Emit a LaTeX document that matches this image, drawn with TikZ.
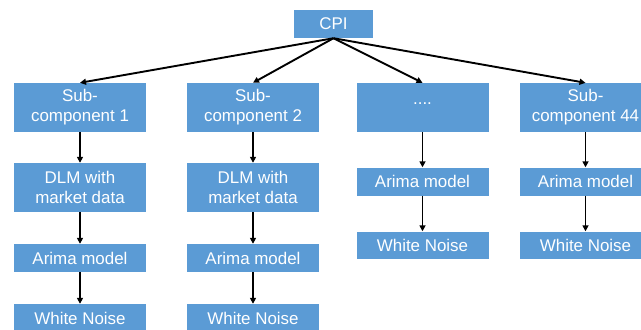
\documentclass[tikz,border=0pt]{standalone}
\usepackage{fontspec}
\setmainfont{Liberation Sans}
\usetikzlibrary{arrows.meta}
\definecolor{boxblue}{HTML}{5B9BD5}
\tikzset{
  box/.style={fill=boxblue, text=white, inner sep=0pt, minimum width=132bp, align=center,
    font=\fontsize{17}{20}\selectfont},
  tall/.style={box, minimum height=49bp},
  short/.style={box, minimum height=28bp},
  conn/.style={line width=1.9bp, -{Triangle[length=6bp,width=6bp]}}
}
\begin{document}
\begin{tikzpicture}[x=1bp,y=-1bp]
\useasboundingbox (0,0) rectangle (641,329);
\clip (0,0) rectangle (641,329);
\node[short, minimum width=79bp] (cpi) at (333.5,24) {CPI};
\node[tall] (s1) at (80,107.5) {Sub-\\component 1};
\node[tall] (s2) at (253,107.5) {Sub-\\component 2};
\node[tall] (s3) at (422.5,107.5) {\raisebox{7bp}{....}};
\node[tall] (s4) at (585.5,107.5) {Sub-\\component 44};
\node[tall] (d1) at (80,187.5) {DLM with\\market data};
\node[tall] (d2) at (253,187.5) {DLM with\\market data};
\node[short] (a1) at (80,258) {Arima model};
\node[short] (a2) at (253,258) {Arima model};
\node[short] (w1) at (80,318) {White Noise};
\node[short] (w2) at (253,318) {White Noise};
\node[short] (a3) at (422.5,181.5) {Arima model};
\node[short] (a4) at (585.5,181.5) {Arima model};
\node[short, minimum height=27bp] (w3) at (422.5,245) {White Noise};
\node[short, minimum height=27bp] (w4) at (585.5,245) {White Noise};
\foreach \t in {s1,s2,s3,s4} \draw[conn] (cpi.south) -- (\t.north);
\draw[conn] (s1) -- (d1);
\draw[conn] (d1) -- (a1);
\draw[conn] (a1) -- (w1);
\draw[conn] (s2) -- (d2);
\draw[conn] (d2) -- (a2);
\draw[conn] (a2) -- (w2);
\draw[conn] (s3) -- (a3);
\draw[conn] (a3) -- (w3);
\draw[conn] (s4) -- (a4);
\draw[conn] (a4) -- (w4);
\end{tikzpicture}
\end{document}
